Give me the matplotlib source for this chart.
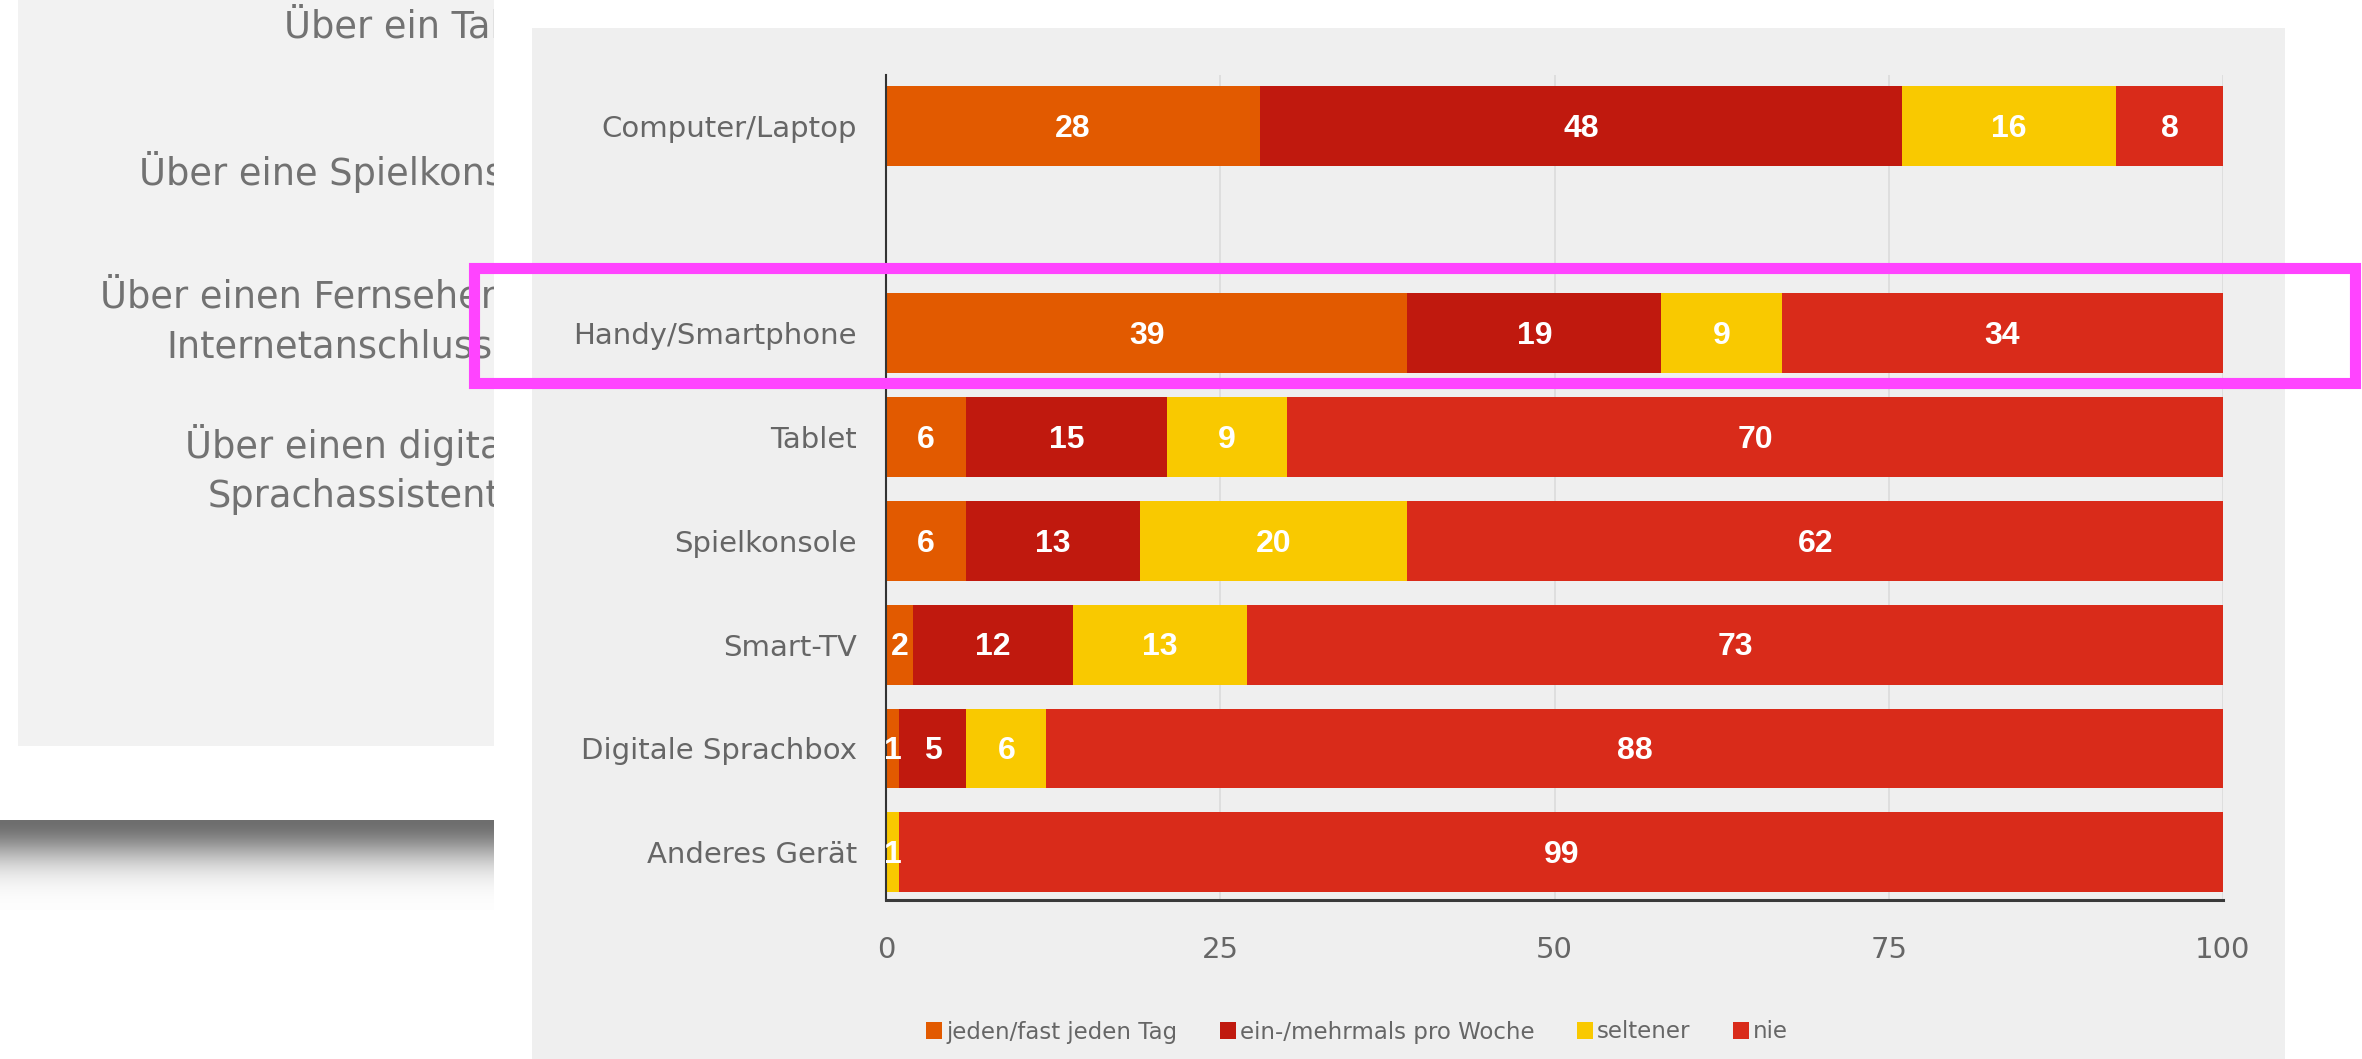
import numpy as np
import matplotlib
matplotlib.use("Agg")
import matplotlib.pyplot as plt
from matplotlib.patches import Rectangle, Patch

# ---------------- data ----------------
categories = ["Computer/Laptop", "", "Handy/Smartphone", "Tablet", "Spielkonsole",
              "Smart-TV", "Digitale Sprachbox", "Anderes Gerät"]
series_names = ["jeden/fast jeden Tag", "ein-/mehrmals pro Woche", "seltener", "nie"]
jeden = [28, 0, 39, 6, 6, 2, 1, 0]
woche = [48, 0, 19, 15, 13, 12, 5, 0]
seltener = [16, 0, 9, 9, 20, 13, 6, 1]
nie = [8, 0, 34, 70, 62, 73, 88, 99]
x_ticks = [0, 25, 50, 75, 100]
background_texts = ["Über ein Tablet", "Über eine Spielkonsole", "Über einen Fernseher mit",
                    "Internetanschluss", "Über einen digitalen", "Sprachassistenten"]

colors = ["#E25A00", "#C0190E", "#F9C900", "#D92B1A"]

# ---------------- figure / layout ----------------
W, H = 2362, 1059
fig = plt.figure(figsize=(W / 100, H / 100), dpi=100)
fig.patch.set_facecolor("white")

# background (screenshot behind the chart card), pixel coordinates
bg = fig.add_axes([0, 0, 1, 1], zorder=0)
bg.axis("off")
bg.add_patch(Rectangle((18, 0), 476, 746, color="#f2f2f2", lw=0, zorder=1))
ys = np.arange(820, 910)
vals = 255 - (255 - 110) * np.exp(-((ys - 820) / 40.0) ** 2)
grad = np.repeat((vals / 255.0)[:, None, None], 3, axis=2)
bg.imshow(grad, extent=(0, 494, 910, 820), aspect="auto", origin="upper",
          interpolation="bilinear", zorder=1)
bg_pos = [(284, 37), (139, 185), (100, 307), (166, 357), (185, 458), (208, 507)]
for s, (x, y) in zip(background_texts, bg_pos):
    bg.text(x, y, s, fontsize=26.5, color="#727272", ha="left", va="baseline",
            family="DejaVu Sans", zorder=2)
bg.add_patch(Rectangle((494, 0), W - 494, H, color="white", lw=0, zorder=3))
bg.add_patch(Rectangle((532, 28), 2285 - 532, H - 28, color="#efefef", lw=0, zorder=4))
bg.set_xlim(0, W)
bg.set_ylim(H, 0)

# ---------------- chart ----------------
ax = fig.add_axes([886 / W, 1 - 900 / H, (2223 - 886) / W, (900 - 75) / H], zorder=2)
ax.patch.set_alpha(0)
y = np.arange(len(categories))
left = np.zeros(len(categories))
series = [jeden, woche, seltener, nie]
for vals_s, col, name in zip(series, colors, series_names):
    vals_s = np.array(vals_s, dtype=float)
    bars = ax.barh(y, vals_s, left=left, height=0.77, color=col, label=name, lw=0, zorder=2)
    labels = [str(int(v)) if v > 0 else "" for v in vals_s]
    anns = ax.bar_label(bars, labels=labels, label_type="center", color="white",
                        fontsize=23, fontweight="bold",
                        family=["Liberation Sans", "DejaVu Sans"])
    for a in anns:
        a.xyann = (0, -2)
    left += vals_s

ax.set_xlim(0, 100)
ax.set_ylim(7.46, -0.49)
ax.set_yticks(y)
ax.set_yticklabels(categories)
ax.set_xticks(x_ticks)
ax.set_xticklabels([str(t) for t in x_ticks])
ax.tick_params(axis="y", length=0, pad=21, labelsize=21, labelcolor="#666666")
ax.tick_params(axis="x", length=0, pad=26, labelsize=21, labelcolor="#666666")
ax.grid(axis="x", color="#d9d9d9", lw=1.1, zorder=0)
ax.set_axisbelow(True)
for s in ["top", "right"]:
    ax.spines[s].set_visible(False)
ax.spines["left"].set_color("#333333")
ax.spines["left"].set_linewidth(1.5)
ax.spines["bottom"].set_color("#3a3a3a")
ax.spines["bottom"].set_linewidth(2.2)

handles = [Patch(facecolor=c, edgecolor="none") for c in colors]
fig.legend(handles, series_names, loc="center", bbox_to_anchor=(1357 / W, 1 - 1032 / H),
           ncol=4, frameon=False, fontsize=16.5, labelcolor="#666666",
           handlelength=0.7, handleheight=0.7, handletextpad=0.17, columnspacing=1.85)

# ---------------- highlight overlay ----------------
ov = fig.add_axes([0, 0, 1, 1], zorder=6)
ov.axis("off")
ov.patch.set_alpha(0)
ov.add_patch(Rectangle((474, 268), 2355 - 474, 383 - 268, fill=False,
                       edgecolor="#FF44FF", lw=8, joinstyle="miter"))
ov.set_xlim(0, W)
ov.set_ylim(H, 0)

fig.savefig("out.png", dpi=100, facecolor="white")
